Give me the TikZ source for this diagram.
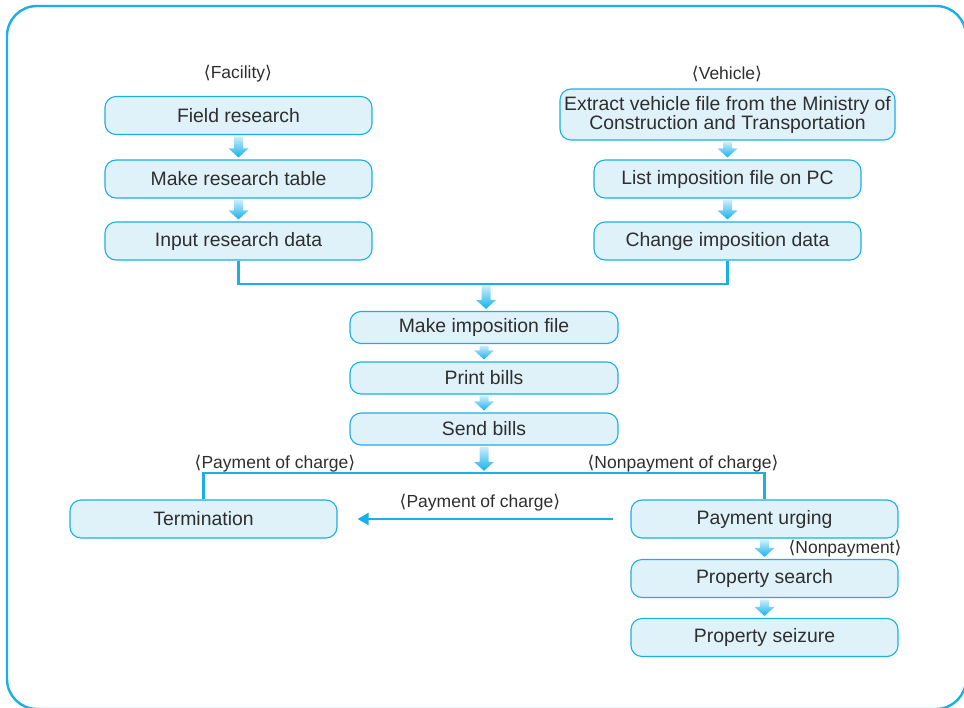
\documentclass[tikz,border=0pt]{standalone}
\usepackage{fontspec}
\setmainfont{Liberation Sans}
\newfontfamily\djv{DejaVu Sans}
\usetikzlibrary{calc,arrows.meta}
\definecolor{ln}{HTML}{1AAFE6}
\definecolor{bf}{HTML}{DFF2FA}
\definecolor{tx}{HTML}{2E2E2E}
\definecolor{atop}{HTML}{CBEDFB}
\definecolor{abot}{HTML}{16B0EA}
\newcommand{\lab}{{\djv ⟨}}
\newcommand{\rab}{{\djv ⟩}}
\newcommand{\barr}[2]{\shade[top color=atop,bottom color=abot] let \p1=(#1.south), \p2=(#2.north) in
  (\x1-4.5pt,\y1-1.5pt) -- (\x1+4.5pt,\y1-1.5pt) -- (\x1+4.5pt,\y2+11pt) -- (\x1+10pt,\y2+11pt) --
  (\x1,\y2+2pt) -- (\x1-10pt,\y2+11pt) -- (\x1-4.5pt,\y2+11pt) -- cycle;}
\begin{document}
\begin{tikzpicture}[x=1pt,y=-1pt,
  box/.style={draw=ln, line width=1.1pt, fill=bf, rounded corners=11pt, text=tx,
    font=\fontsize{19.4}{22}\selectfont, inner sep=0pt, align=center,
    minimum width=267pt, minimum height=38pt},
  sbox/.style={box, minimum height=32pt},
  lbl/.style={text=tx, font=\fontsize{17.5}{19}\selectfont, inner sep=0pt},
  conn/.style={draw=ln, line width=2.4pt},
  pt/.style={inner sep=0pt, minimum size=0pt},
]
\path[use as bounding box, clip] (0,0) rectangle (964,707);
\draw[ln, line width=2.4pt, rounded corners=30pt] (7,6) rectangle (966,709);

% labels
\node[lbl] (lfac) at (238,74) {\lab Facility\rab};
\node[lbl] (lveh) at (727,74) {\lab Vehicle\rab};

% left column
\node[box] (fr) at (238.5,115.5) {Field research};
\node[box] (mrt) at (238.5,179) {Make research table};
\node[box] (ird) at (238.5,241) {Input research data};

% right column
\node[box, minimum width=335pt, minimum height=51pt] (ext) at (727.5,114.5)
  {Extract vehicle file from the Ministry of\\[-3pt]Construction and Transportation};
\node[box] (lip) at (727.5,179) {List imposition file on PC};
\node[box] (cid) at (727.5,241) {Change imposition data};

% merge points
\node[pt] (m1) at (486,284) {};
\node[pt] (m2) at (486,473) {};

% middle
\node[sbox, minimum width=268pt] (mif) at (484,327.5) {Make imposition file};
\node[sbox, minimum width=268pt] (pb) at (484,378) {Print bills};
\node[sbox, minimum width=268pt] (sb) at (484,429) {Send bills};

% bottom
\node[box] (ter) at (203.5,519) {Termination};
\node[box] (pu) at (764.5,519) {Payment urging};
\node[box] (ps) at (764.5,578.5) {Property search};
\node[box] (pz) at (764.5,637.5) {Property seizure};

% connectors
\draw[conn] (ird.south) |- (m1) -| (cid.south);
\draw[conn] (ter.north) |- (m2) -| (pu.north);
\draw[ln, line width=2.2pt, shorten <=17pt, shorten >=20pt, -{Triangle[length=11pt,width=12pt]}] (pu.west) -- (ter.east);

\node[lbl] (lpay1) at (275,464) {\lab Payment of charge\rab};
\node[lbl] (lnon) at (683,464) {\lab Nonpayment of charge\rab};
\node[lbl] (lpay2) at (480,503) {\lab Payment of charge\rab};
\node[lbl] (lnp) at (845,549) {\lab Nonpayment\rab};

% block arrows
\barr{fr}{mrt}
\barr{mrt}{ird}
\barr{ext}{lip}
\barr{lip}{cid}
\barr{m1}{mif}
\barr{mif}{pb}
\barr{pb}{sb}
\barr{sb}{m2}
\barr{pu}{ps}
\barr{ps}{pz}
\end{tikzpicture}
\end{document}
